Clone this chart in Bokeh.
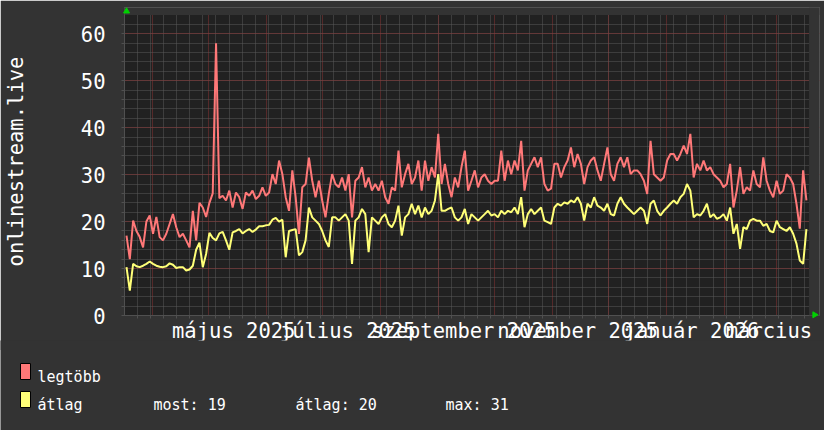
import math
import pandas as pd
from datetime import datetime, timedelta
from bokeh.plotting import figure
from bokeh.models import Range1d, FixedTicker, Label, BoxAnnotation, ColumnDataSource
from bokeh.embed import file_html
from bokeh.resources import INLINE

# ---------------- data ----------------
legtobb = [17, 12, 20.2, 18, 16.7, 14.5, 20, 21.3, 17.4, 21, 16.7, 16, 17.4, 19.5, 21.6, 18.8, 16.7, 17.4, 16, 14.5,
           22.3, 16, 24, 23, 21, 24, 26, 58, 25, 25.5, 24.5, 26.6, 23, 26.2, 25.2, 22.7, 26.2, 25.5, 26.6, 24.8,
           25.5, 27.3, 25.5, 26.2, 30.1, 28, 33, 30.1, 25.2, 22.3, 30.9, 25.2,
           17.4, 27.3, 28, 33.6, 28.7, 25.2, 28.7, 24.5, 20.9, 25.9, 30.1, 28, 27.3, 29.4, 26.6, 30.1, 20.9, 28.7, 29.4, 31.6,
           27.3, 29.4, 26.6, 28, 26.6, 28.7, 25.2, 23.8, 27.3, 26.6, 35.1, 27.3, 30.1, 32.3, 28, 29.4, 33, 26.6, 33, 28.7,
           31.6, 29.4, 38.7, 28, 32.3, 28, 25.2, 29.4, 27.3, 31.6,
           35.1, 26.6, 28.7, 30.9, 27.3, 29.4, 30.1, 28.7, 28, 28.7, 28.7, 35.1, 28.7, 33, 30.1, 33, 30.9, 37.2, 26.6, 30.9,
           32.3, 33.7, 31.6, 33.7, 28, 26.6, 27, 32.3, 32.3, 29.4, 31.6, 33, 35.8, 31.6, 34.4, 32.3, 28, 31.6, 33, 33.7,
           30.9, 28.7, 32.3, 35.8, 30.1, 28.7, 32.3, 33.7, 31.6, 33.7, 30.1, 30.9,
           30.9, 30.1, 28.7, 25.9, 37.2, 30.1, 29.4, 28.7, 29.4, 33, 34.4, 34.4, 33, 34.4, 36.2, 34.4, 38.7, 29.4, 32.3, 30.9,
           33, 30.9, 31.6, 30.1, 29.4, 28.7, 27.3, 28, 32.3, 23, 26.6, 31.6, 25.9, 27.3, 26.6, 30.9, 28, 27.3, 33.7, 28.7,
           26.6, 25.2, 28.7, 25.9, 26.6, 30.1, 29.4, 28, 23.8, 18.5, 30.9, 24.5]

atlag = [10.3, 5.3, 11, 10.5, 10.3, 10.6, 11, 11.5, 11, 10.6, 10.4, 10.3, 10.5, 11.1, 10.8, 10.1, 10.3, 10.3, 9.6, 9.8,
         10.6, 14, 15.5, 10.3, 13.1, 17.6, 16.5, 16, 17.5, 17.8, 16, 14, 17.7, 18, 18.4, 17.5, 18, 18.4, 17.8, 18.3,
         19, 19, 19.2, 19.3, 20.4, 20.8, 20, 20.4, 12.4, 18, 18.2, 18.4,
         12.8, 13.5, 16, 23, 20.9, 20.2, 19.5, 18, 16, 14.6, 20.9, 20.9, 20.2, 20.9, 21.6, 20.2, 11, 20.2, 20.9, 22.7,
         21.6, 13.5, 20.9, 20.2, 19.5, 20.9, 21.6, 19.5, 18.8, 20.2, 23.4, 17, 20.9, 21.6, 23.8, 21.6, 23.4, 20.9, 23, 21.6,
         22.3, 24.5, 30.1, 22.3, 22.3, 22.7, 23, 20.9, 20.2, 20.9,
         22.7, 19.5, 21.6, 20.9, 20.2, 20.9, 21.6, 22.3, 21.3, 21.6, 20.9, 22.3, 21.6, 22.3, 22, 23, 21.6, 25.2, 18.8, 21.6,
         22.7, 21.6, 22.3, 23, 20.2, 19.9, 19.5, 23, 23.8, 23.4, 24.1, 23.8, 24.5, 24.1, 25.2, 23.8, 20.2, 23.8, 23, 25.2,
         23.4, 23, 22.3, 23.8, 21.6, 21.3, 23.8, 25.2, 23.8, 23, 22.3, 21.6,
         22.3, 23, 22.3, 19.5, 23.8, 24.5, 22.3, 21.3, 22.3, 23, 23.8, 24.5, 23.8, 25.2, 25.9, 28, 26.6, 20.9, 21.6, 21.3,
         22.3, 23.8, 20.9, 21.6, 20.6, 20.9, 21.6, 20.2, 23, 17.4, 19.5, 14.2, 18.8, 18.4, 20.2, 20.6, 20.2, 20.2, 19.1, 19.5,
         18, 17.7, 20.2, 18.8, 18.4, 18, 18.8, 17.4, 15.3, 11.7, 11, 18.4]

first_sample = datetime(2025, 3, 18, 2, 30)
sample_step_hours = 42.6

range_start = datetime(2025, 3, 17, 0, 53)     # left edge of the graph area
plot_end = datetime(2026, 3, 18, 8, 48)        # right edge of the graph area
frame_end = datetime(2026, 3, 23, 23, 27)      # room for the axis arrow

x_label_dates = ["2025-05-14 12:00", "2025-07-14 12:00", "2025-09-14 12:00",
                 "2025-11-14 12:00", "2026-01-14 12:00", "2026-03-14 12:00"]
x_label_texts = ["május 2025", "július 2025", "szeptember 2025", "november 2025", "január 2026", "március "]
y_ticks = [0, 10, 20, 30, 40, 50, 60]
y_max = 64
y_axis_title = "onlinestream.live"
series_names = ["legtöbb", "átlag"]
stat_texts = ["most: 19", "átlag: 20", "max: 31"]

# ---------------- helpers ----------------
EPOCH = datetime(1970, 1, 1)
def ms(d):
    return (pd.Timestamp(d).to_pydatetime() - EPOCH).total_seconds() * 1000.0

dates = [first_sample + timedelta(hours=sample_step_hours * i) for i in range(len(legtobb))]
src = ColumnDataSource(dict(x=dates, mx=legtobb, av=atlag))

month_ms = [ms(d) for d in pd.date_range("2025-04-01", "2026-03-01", freq="MS")]
monday_ms = [ms(d) for d in pd.date_range("2025-03-17", "2026-03-16", freq="W-MON")]
label_ms = [ms(d) for d in x_label_dates]

FONT = "DejaVu Sans Mono"
TXT = "#ffffff"
BG = "#333333"
RED = "#ff7878"
YEL = "#ffff78"
GREEN = "#00d000"

p = figure(width=824, height=350, x_axis_type="datetime",
           x_range=Range1d(range_start, frame_end), y_range=Range1d(0, 65.6),
           output_backend="svg", toolbar_location=None,
           min_border_left=123, min_border_right=5, min_border_top=7, min_border_bottom=35)
p.background_fill_color = "#212121"
p.border_fill_color = BG
p.outline_line_color = None

# grids
p.xgrid.ticker = FixedTicker(ticks=month_ms, minor_ticks=monday_ms)
for g in (p.xgrid[0], p.ygrid[0]):
    g.grid_line_color = "#8a3434"
    g.grid_line_dash = "1 1"
    g.grid_line_width = 1
    g.minor_grid_line_color = "#5a5a5a"
    g.minor_grid_line_dash = "1 1"
    g.minor_grid_line_width = 1

# outer background above the top value and right of the last time
p.add_layout(BoxAnnotation(bottom=y_max, fill_color=BG, fill_alpha=1, line_alpha=0))
p.add_layout(BoxAnnotation(left=plot_end, fill_color=BG, fill_alpha=1, line_alpha=0))

# axes
p.xaxis.ticker = FixedTicker(ticks=label_ms, minor_ticks=monday_ms)
p.xaxis.major_label_overrides = {t: s for t, s in zip(label_ms, x_label_texts)}
p.yaxis.ticker = FixedTicker(ticks=y_ticks, minor_ticks=list(range(0, y_max - 1, 2)))
for ax in (p.xaxis[0], p.yaxis[0]):
    ax.axis_line_color = "#505050"
    ax.major_tick_out = 0
    ax.major_tick_in = 0
    ax.minor_tick_out = 3
    ax.minor_tick_in = 0
    ax.minor_tick_line_color = "#505050"
    ax.major_label_text_font = FONT
    ax.major_label_text_font_size = "20.5px"
    ax.major_label_text_color = TXT
p.xaxis.major_label_standoff = 0
p.yaxis.major_label_standoff = 16
p.yaxis.axis_label = y_axis_title
p.yaxis.axis_label_text_font = FONT
p.yaxis.axis_label_text_font_size = "20.5px"
p.yaxis.axis_label_text_font_style = "normal"
p.yaxis.axis_label_text_color = TXT
p.yaxis.axis_label_standoff = 50

# data lines
p.line("x", "mx", source=src, line_color=RED, line_width=2)
p.line("x", "av", source=src, line_color=YEL, line_width=2)

# axis arrows
p.scatter(x=[range_start + timedelta(days=1.1)], y=[y_max + 0.8], marker="triangle", size=6,
          fill_color=GREEN, line_color=GREEN, level="overlay")
p.scatter(x=[plot_end + timedelta(days=3)], y=[0.15], marker="triangle", size=6, angle=-math.pi / 2,
          fill_color=GREEN, line_color=GREEN, level="overlay")

# ---------------- legend strip (separate root, stacked below, overlapping the seam) ----------------
leg = figure(width=824, height=90, x_range=Range1d(0, 824), y_range=Range1d(90, 0),
             x_axis_location=None, y_axis_location=None,
             output_backend="svg", toolbar_location=None,
             min_border_left=0, min_border_right=0, min_border_top=0, min_border_bottom=0,
             styles={"margin-top": "-10px"})
leg.grid.visible = False
leg.background_fill_color = BG
leg.border_fill_color = BG
leg.outline_line_color = None

LFONT = "DejaVu Sans Mono"
LSIZE = "15px"
for i, (name, col) in enumerate(zip(series_names, [RED, YEL])):
    top = 23 + 28 * i
    leg.add_layout(BoxAnnotation(left=20, right=30, top=top, bottom=top + 16,
                                 fill_color=col, fill_alpha=1, line_color="#000000", line_width=1, line_alpha=1))
    leg.add_layout(Label(x=37, y=36 + 28.5 * i, text=name, text_font=LFONT, text_font_size=LSIZE,
                         text_color=TXT, text_baseline="alphabetic"))
for xs, s in zip([153, 295, 445], stat_texts):
    leg.add_layout(Label(x=xs, y=64.5, text=s, text_font=LFONT, text_font_size=LSIZE,
                         text_color=TXT, text_baseline="alphabetic"))

open("out.html", "w").write(file_html([p, leg], INLINE))
